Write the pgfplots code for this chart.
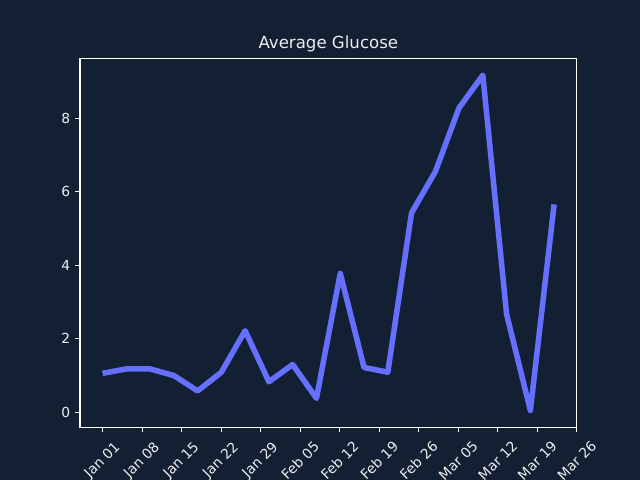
\documentclass[border=0pt]{standalone}
\usepackage{pgfplots}
\pgfplotsset{compat=1.18}
\usepackage{fontspec}
\setmainfont{DejaVu Sans}
\definecolor{bgnavy}{HTML}{131F33}
\definecolor{linecol}{HTML}{6670FF}
\definecolor{txt}{HTML}{EEEEEE}
\begin{document}
\begin{tikzpicture}[x=0.01in,y=0.01in]
\fill[bgnavy] (0,0) rectangle (640,480);
\begin{axis}[
  at={(0.8in,0.527in)}, anchor=south west,
  scale only axis,
  width=4.967in, height=3.69in,
  xmin=-4, xmax=84,
  ymin=-0.41, ymax=9.64,
  axis line style={white, line width=0.8pt},
  tick style={white, line width=0.8pt},
  major tick length=3.5pt,
  tick align=outside,
  xtick pos=bottom, ytick pos=left,
  xtick={0,7,14,21,28,35,42,49,56,63,70,77,84},
  xticklabels={Jan 01,Jan 08,Jan 15,Jan 22,Jan 29,Feb 05,Feb 12,Feb 19,Feb 26,Mar 05,Mar 12,Mar 19,Mar 26},
  ytick={0,2,4,6,8},
  xticklabel style={yshift=-20.5pt, rotate=45, anchor=center, font=\fontsize{10}{12}\selectfont, text=txt},
  yticklabel style={font=\fontsize{10}{12}\selectfont, text=txt},
  /pgf/number format/assume math mode=true,
  title={Average Glucose},
  title style={font=\fontsize{12}{14}\selectfont, text=txt, yshift=-5pt},
  clip=false,
]
\addplot[linecol, line width=4pt, line join=round] coordinates {
(0.00,1.06) (4.21,1.18) (8.42,1.18) (12.63,1.00) (16.84,0.58)
(21.05,1.09) (25.26,2.22) (29.47,0.83) (33.68,1.30) (37.89,0.38)
(42.11,3.78) (46.32,1.22) (50.53,1.09) (54.74,5.43) (58.95,6.55)
(63.16,8.29) (67.37,9.18) (71.58,2.67) (75.79,0.05) (80.00,5.66)
};
\end{axis}
\pgfresetboundingbox
\path[use as bounding box] (0,0) rectangle (6.4in,4.8in);
\end{tikzpicture}
\end{document}
